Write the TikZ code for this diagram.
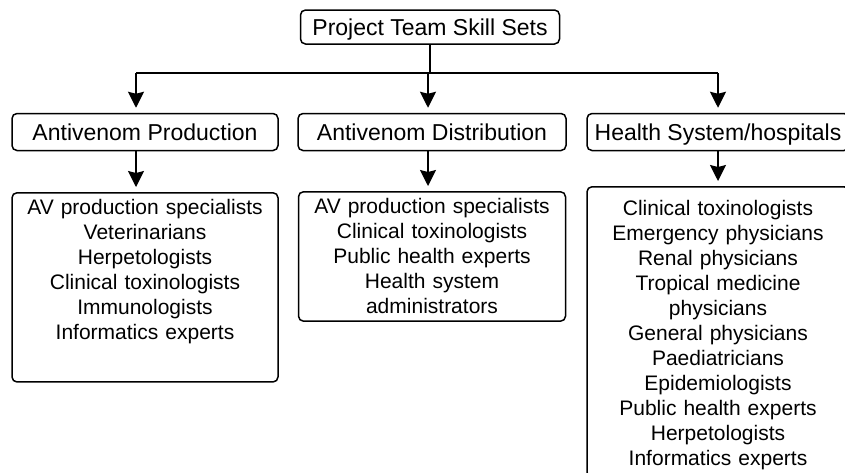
\documentclass[tikz,border=0pt]{standalone}
\usepackage{fontspec}
\setmainfont{Liberation Sans}
\usetikzlibrary{arrows.meta,positioning}

\tikzset{
  box/.style={draw, line width=1.5pt, rounded corners=5pt, align=center, inner xsep=4pt},
  head/.style={box, font=\fontsize{23}{25}\selectfont, text height=19pt, text depth=3pt, inner ysep=0pt},
  list/.style={box, font=\fontsize{21}{25}\selectfont, anchor=north, inner ysep=7pt},
  arr/.style={line width=1.5pt, -{Stealth[length=16pt,width=16pt,inset=2pt]}, shorten >=5pt},
}

\begin{document}
\begin{tikzpicture}[x=1pt,y=-1pt]
  \useasboundingbox (0,0) rectangle (845,472);
  \clip (0,0) rectangle (845,472);
  % headings
  \node[head, minimum width=259pt, minimum height=34pt] (team) at (430,27) {Project Team Skill Sets};
  \node[head, minimum width=266pt, minimum height=37pt] (prod) at (145,132) {Antivenom Production};
  \node[head, minimum width=268pt, minimum height=37pt] (dist) at (432,132) {Antivenom Distribution};
  \node[head, minimum width=262pt, minimum height=37pt] (hosp) at (718,132) {Health System/hospitals};
  % skill lists
  \node[list, text width=258pt, text depth=160pt] (prod-list) at (145,192)
    {AV production specialists\\Veterinarians\\Herpetologists\\Clinical toxinologists\\Immunologists\\Informatics experts};
  \node[list, text width=259pt] (dist-list) at (432,191)
    {AV production specialists\\Clinical toxinologists\\Public health experts\\Health system\\administrators};
  \node[list, text width=254pt, text height=22pt] (hosp-list) at (718,186)
    {Clinical toxinologists\\Emergency physicians\\Renal physicians\\Tropical medicine\\physicians\\General physicians\\Paediatricians\\Epidemiologists\\Public health experts\\Herpetologists\\Informatics experts};
  % connectors
  \draw[line width=1.5pt] (team.south) -- (team.south |- 0,73) coordinate (hub);
  \draw[line width=1.5pt] ([xshift=-9pt]hub -| prod.north) -- (hub -| hosp.north);
  \foreach \n/\dx in {prod/-9,dist/-4,hosp/0} {
    \draw[arr] ([xshift=\dx pt]hub -| \n.north) -- ([xshift=\dx pt]\n.north);
    \draw[arr] ([xshift=\dx pt]\n.south) -- ([xshift=\dx pt]\n-list.north);
  }
\end{tikzpicture}
\end{document}
